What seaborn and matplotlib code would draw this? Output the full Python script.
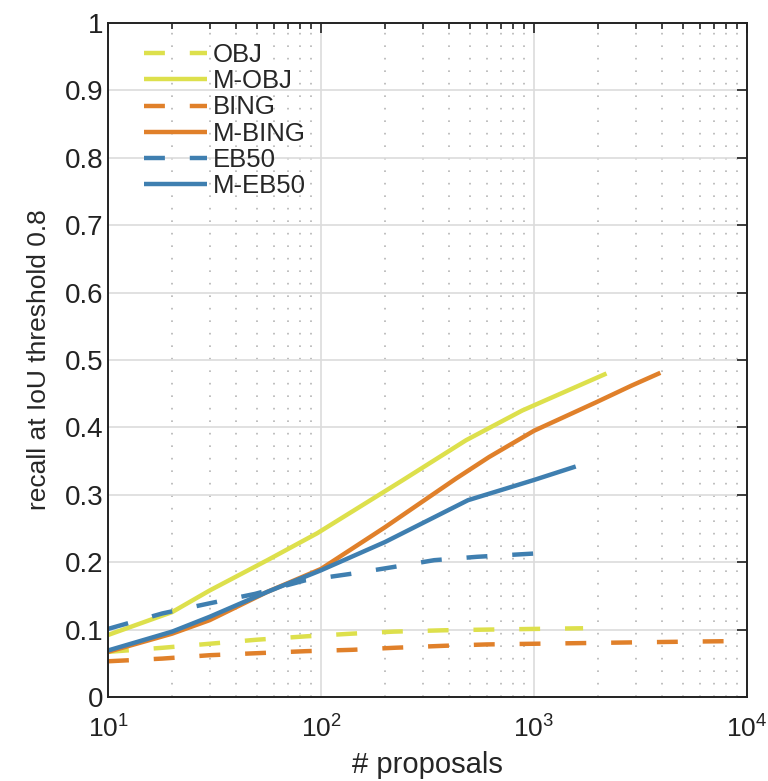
import numpy as np
import pandas as pd
import matplotlib
matplotlib.use("Agg")
import matplotlib.pyplot as plt
import seaborn as sns
from matplotlib.ticker import LogLocator, NullFormatter

### Data
obj_x = [10, 18, 30, 50, 85, 140, 220, 380, 600, 1000, 1700]
obj_y = [0.067, 0.073, 0.079, 0.085, 0.090, 0.094, 0.097, 0.099, 0.100, 0.101, 0.102]

mobj_x = [10, 20, 30, 56, 96, 240, 480, 880, 2190]
mobj_y = [0.092, 0.126, 0.158, 0.203, 0.243, 0.321, 0.381, 0.425, 0.480]

bing_x = [10, 18, 30, 50, 85, 140, 220, 380, 600, 1000, 1700, 2900, 4900, 9000]
bing_y = [0.053, 0.057, 0.062, 0.065, 0.068, 0.070, 0.073, 0.076, 0.078, 0.079, 0.080, 0.081, 0.082, 0.083]

mbing_x = [10, 20, 30, 56, 100, 200, 430, 615, 1000, 1950, 2870, 3920]
mbing_y = [0.067, 0.094, 0.114, 0.156, 0.190, 0.252, 0.324, 0.356, 0.395, 0.437, 0.462, 0.481]

eb_x = [10, 18, 30, 49, 84, 140, 220, 340, 540, 1020]
eb_y = [0.101, 0.124, 0.139, 0.153, 0.173, 0.183, 0.193, 0.203, 0.208, 0.213]

meb_x = [10, 20, 30, 56, 100, 200, 490, 1000, 1570]
meb_y = [0.069, 0.097, 0.119, 0.156, 0.188, 0.230, 0.292, 0.322, 0.342]

y_ticks = [0, 0.1, 0.2, 0.3, 0.4, 0.5, 0.6, 0.7, 0.8, 0.9, 1.0]
y_tick_labels = ["0", "0.1", "0.2", "0.3", "0.4", "0.5", "0.6", "0.7", "0.8", "0.9", "1"]

yellow = "#dde04c"
orange = "#e0802a"
blue = "#3f7fb0"

series = [
    ("OBJ", obj_x, obj_y, yellow, "dash"),
    ("M-OBJ", mobj_x, mobj_y, yellow, "solid"),
    ("BING", bing_x, bing_y, orange, "dash"),
    ("M-BING", mbing_x, mbing_y, orange, "solid"),
    ("EB50", eb_x, eb_y, blue, "dash"),
    ("M-EB50", meb_x, meb_y, blue, "solid"),
]

sns.set_style("white")
plt.rcParams["font.family"] = ["Liberation Sans", "DejaVu Sans"]
plt.rcParams["mathtext.fontset"] = "custom"
plt.rcParams["mathtext.rm"] = "Liberation Sans"
plt.rcParams["mathtext.it"] = "Liberation Sans"

fig = plt.figure(figsize=(7.68, 7.81), dpi=100)
ax = fig.add_axes([108 / 768, 1 - 697 / 781, 639 / 768, 674 / 781])

for name, xs, ys, col, sty in series:
    df = pd.DataFrame({"x": xs, "y": ys})
    sns.lineplot(data=df, x="x", y="y", ax=ax, color=col, linewidth=3.2, label=name)
    cur = ax.get_lines()[-1]
    if sty == "dash":
        cur.set_dashes([4.7, 5.6])
    cur.set_solid_capstyle("butt")

ax.set_xscale("log")
ax.set_xlim(10, 1e4)
ax.set_ylim(0, 1)
ax.set_yticks(y_ticks)
ax.set_yticklabels(y_tick_labels)
ax.xaxis.set_minor_locator(LogLocator(base=10, subs=np.arange(2, 10)))
ax.xaxis.set_minor_formatter(NullFormatter())

ax.grid(which="major", color="#dcdcdc", linewidth=1.2, linestyle="-")
ax.grid(which="minor", axis="x", color="#b5b5b5", linewidth=1.2, linestyle=(0, (1, 6.5)))
ax.set_axisbelow(True)

ax.tick_params(which="both", direction="in", top=True, right=True, labelsize=20, width=1.2, colors="#222222")
ax.tick_params(axis="x", labelsize=19, pad=13)
ax.tick_params(which="major", length=7)
ax.tick_params(which="minor", length=4)
for sp in ax.spines.values():
    sp.set_color("#222222")
    sp.set_linewidth(1.4)

ax.set_xlabel("# proposals", fontsize=21, labelpad=6)
ax.set_ylabel("recall at IoU threshold 0.8", fontsize=19, labelpad=10)

ax.legend(loc="upper left", frameon=False, fontsize=18.5, handlelength=2.45,
          handletextpad=0.25, labelspacing=0.08, borderaxespad=0.0,
          bbox_to_anchor=(0.04, 0.985))

fig.savefig("out.png", dpi=100)
